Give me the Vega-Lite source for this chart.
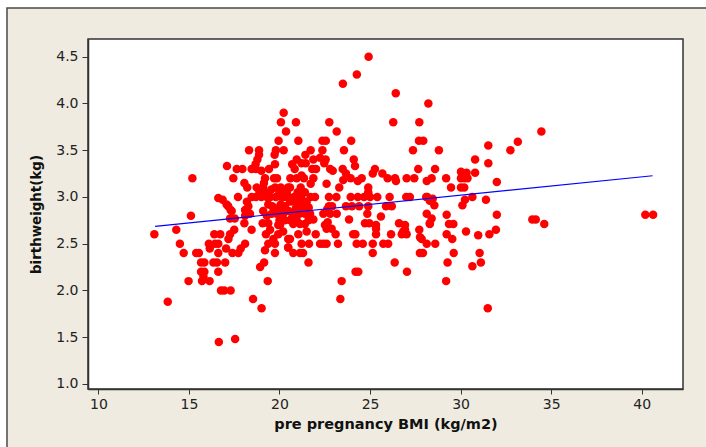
{"$schema":"https://vega.github.io/schema/vega-lite/v6.json","width":595,"height":350,"autosize":"none","padding":{"left":88,"top":39,"right":23,"bottom":58},"background":"white","config":{"view":{"stroke":null},"axis":{"grid":false,"domain":true,"domainColor":"#333333","domainWidth":1.5,"tickColor":"#333333","labelFont":"DejaVu Sans","labelFontSize":14,"labelColor":"#222222","titleFont":"DejaVu Sans","titleFontWeight":"bold","titleColor":"#111111"},"axisX":{"tickSize":5,"labelPadding":3,"titlePadding":6,"titleFontSize":14.5},"axisY":{"tickSize":6,"labelPadding":4,"titlePadding":12,"titleFontSize":13.4}},"datasets":{"fit":[{"bmi":13.13,"bw":2.686},{"bmi":40.6,"bw":3.227}],"pts":[
{"bmi":16.65,"bw":1.45},{"bmi":17.55,"bw":1.48},{"bmi":20.3,"bw":2.9},{"bmi":20.5,"bw":2.85},{"bmi":20.9,"bw":2.88},{"bmi":21.0,"bw":3.05},{"bmi":21.2,"bw":3.0},{"bmi":21.4,"bw":3.05},{"bmi":21.5,"bw":2.95},{"bmi":20.6,"bw":2.75},{"bmi":20.3,"bw":2.75},{"bmi":21.1,"bw":2.82},{"bmi":19.1,"bw":2.85},{"bmi":19.3,"bw":2.8},{"bmi":20.0,"bw":3.05},{"bmi":19.1,"bw":3.1},{"bmi":19.7,"bw":3.2},{"bmi":18.2,"bw":2.95},{"bmi":20.6,"bw":3.2},{"bmi":20.7,"bw":3.35},
{"bmi":13.09,"bw":2.6},{"bmi":14.3,"bw":2.65},{"bmi":14.5,"bw":2.5},{"bmi":14.71,"bw":2.4},{"bmi":15.4,"bw":2.4},{"bmi":15.55,"bw":2.4},{"bmi":15.67,"bw":2.3},{"bmi":15.85,"bw":2.3},{"bmi":16.35,"bw":2.3},{"bmi":16.55,"bw":2.3},{"bmi":17.0,"bw":2.3},{"bmi":15.67,"bw":2.2},{"bmi":15.85,"bw":2.2},{"bmi":16.62,"bw":2.2},{"bmi":14.98,"bw":2.1},{"bmi":15.72,"bw":2.1},{"bmi":15.8,"bw":2.15},{"bmi":16.14,"bw":2.1},{"bmi":16.77,"bw":2.0},{"bmi":16.95,"bw":2.0},{"bmi":17.3,"bw":2.0},{"bmi":13.83,"bw":1.88},{"bmi":18.54,"bw":1.91},{"bmi":19.01,"bw":1.81},{"bmi":19.35,"bw":2.1},{"bmi":18.93,"bw":2.25},{"bmi":19.15,"bw":2.3},{"bmi":19.2,"bw":2.43},{"bmi":19.75,"bw":2.4},{"bmi":20.48,"bw":2.46},{"bmi":16.4,"bw":2.6},{"bmi":16.73,"bw":2.6},{"bmi":16.1,"bw":2.5},{"bmi":16.44,"bw":2.5},{"bmi":16.62,"bw":2.5},{"bmi":16.15,"bw":2.45},{"bmi":16.62,"bw":2.4},{"bmi":17.05,"bw":2.45},{"bmi":17.4,"bw":2.4},{"bmi":17.73,"bw":2.4},{"bmi":17.86,"bw":2.45},{"bmi":18.1,"bw":2.5},{"bmi":17.18,"bw":2.55},{"bmi":17.27,"bw":2.6},{"bmi":17.5,"bw":2.65},{"bmi":18.06,"bw":2.72},{"bmi":18.46,"bw":2.65},{"bmi":17.27,"bw":2.77},{"bmi":17.53,"bw":2.77},{"bmi":17.08,"bw":2.92},{"bmi":17.3,"bw":2.86},{"bmi":18.1,"bw":2.86},{"bmi":18.28,"bw":2.9},{"bmi":18.37,"bw":2.82},{"bmi":18.1,"bw":2.8},{"bmi":19.38,"bw":2.92},{"bmi":20.07,"bw":2.92},{"bmi":19.57,"bw":2.82},{"bmi":19.85,"bw":2.82},{"bmi":20.2,"bw":2.82},{"bmi":19.07,"bw":2.72},{"bmi":19.38,"bw":2.72},{"bmi":19.93,"bw":2.7},{"bmi":19.48,"bw":2.65},{"bmi":19.25,"bw":2.6},{"bmi":20.2,"bw":2.63},{"bmi":19.93,"bw":2.6},{"bmi":19.66,"bw":2.55},{"bmi":19.38,"bw":2.5},{"bmi":19.75,"bw":2.5},{"bmi":20.48,"bw":2.55},{"bmi":19.6,"bw":2.9},{"bmi":19.8,"bw":2.85},{"bmi":20.0,"bw":2.75},
{"bmi":15.19,"bw":3.2},{"bmi":15.11,"bw":2.8},{"bmi":20.23,"bw":3.9},{"bmi":20.08,"bw":3.8},{"bmi":20.36,"bw":3.7},{"bmi":19.95,"bw":3.6},{"bmi":18.32,"bw":3.5},{"bmi":18.87,"bw":3.5},{"bmi":19.8,"bw":3.5},{"bmi":20.23,"bw":3.5},{"bmi":18.87,"bw":3.45},{"bmi":18.78,"bw":3.4},{"bmi":19.73,"bw":3.45},{"bmi":18.68,"bw":3.35},{"bmi":19.75,"bw":3.35},{"bmi":17.1,"bw":3.33},{"bmi":17.64,"bw":3.3},{"bmi":17.95,"bw":3.3},{"bmi":18.46,"bw":3.3},{"bmi":18.7,"bw":3.3},{"bmi":19.0,"bw":3.28},{"bmi":19.42,"bw":3.3},{"bmi":17.45,"bw":3.2},{"bmi":19.86,"bw":3.2},{"bmi":19.2,"bw":3.2},{"bmi":18.06,"bw":3.15},{"bmi":18.22,"bw":3.1},{"bmi":18.74,"bw":3.1},{"bmi":19.14,"bw":3.15},{"bmi":19.76,"bw":3.1},{"bmi":20.07,"bw":3.1},{"bmi":20.47,"bw":3.1},{"bmi":17.71,"bw":3.0},{"bmi":18.46,"bw":3.0},{"bmi":18.7,"bw":3.0},{"bmi":19.0,"bw":3.0},{"bmi":19.3,"bw":3.0},{"bmi":19.5,"bw":3.0},{"bmi":19.8,"bw":3.0},{"bmi":20.1,"bw":3.0},{"bmi":20.4,"bw":3.0},{"bmi":16.62,"bw":2.99},{"bmi":16.86,"bw":2.97},{"bmi":17.17,"bw":2.9},{"bmi":17.36,"bw":2.85},{"bmi":19.2,"bw":3.05},{"bmi":19.55,"bw":3.08},{"bmi":18.9,"bw":3.05},
{"bmi":20.91,"bw":3.8},{"bmi":22.75,"bw":3.8},{"bmi":26.28,"bw":3.8},{"bmi":27.72,"bw":3.8},{"bmi":28.22,"bw":4.0},{"bmi":23.16,"bw":3.7},{"bmi":21.04,"bw":3.6},{"bmi":22.37,"bw":3.6},{"bmi":22.56,"bw":3.6},{"bmi":23.96,"bw":3.6},{"bmi":27.7,"bw":3.6},{"bmi":27.94,"bw":3.6},{"bmi":21.72,"bw":3.5},{"bmi":22.37,"bw":3.5},{"bmi":23.56,"bw":3.5},{"bmi":27.37,"bw":3.5},{"bmi":21.43,"bw":3.45},{"bmi":21.87,"bw":3.4},{"bmi":22.24,"bw":3.42},{"bmi":22.55,"bw":3.4},{"bmi":20.95,"bw":3.4},{"bmi":24.1,"bw":3.4},{"bmi":21.22,"bw":3.36},{"bmi":21.45,"bw":3.36},{"bmi":22.47,"bw":3.36},{"bmi":24.17,"bw":3.33},{"bmi":20.84,"bw":3.3},{"bmi":21.81,"bw":3.3},{"bmi":22.02,"bw":3.3},{"bmi":22.8,"bw":3.3},{"bmi":22.94,"bw":3.28},{"bmi":23.49,"bw":3.3},{"bmi":25.27,"bw":3.3},{"bmi":25.15,"bw":3.25},{"bmi":25.68,"bw":3.25},{"bmi":27.66,"bw":3.3},{"bmi":23.67,"bw":3.25},{"bmi":20.95,"bw":3.2},{"bmi":21.22,"bw":3.23},{"bmi":21.35,"bw":3.2},{"bmi":21.87,"bw":3.2},{"bmi":23.52,"bw":3.18},{"bmi":23.93,"bw":3.2},{"bmi":24.54,"bw":3.2},{"bmi":24.32,"bw":3.17},{"bmi":25.97,"bw":3.2},{"bmi":26.38,"bw":3.2},{"bmi":26.43,"bw":3.17},{"bmi":27.02,"bw":3.2},{"bmi":27.44,"bw":3.2},{"bmi":28.13,"bw":3.17},{"bmi":22.6,"bw":3.14},{"bmi":21.72,"bw":3.14},{"bmi":21.17,"bw":3.1},{"bmi":23.3,"bw":3.1},{"bmi":20.58,"bw":3.1},{"bmi":20.4,"bw":3.05},{"bmi":24.9,"bw":3.1},{"bmi":24.9,"bw":3.05},{"bmi":20.23,"bw":3.0},{"bmi":20.5,"bw":3.0},{"bmi":20.8,"bw":3.0},{"bmi":21.72,"bw":3.0},{"bmi":21.96,"bw":3.0},{"bmi":22.73,"bw":3.0},{"bmi":23.14,"bw":3.0},{"bmi":23.93,"bw":3.0},{"bmi":24.32,"bw":3.0},{"bmi":24.67,"bw":3.0},{"bmi":25.0,"bw":3.0},{"bmi":25.4,"bw":3.0},{"bmi":26.08,"bw":3.0},{"bmi":27.0,"bw":3.0},{"bmi":27.2,"bw":3.0},{"bmi":28.1,"bw":3.0},{"bmi":22.73,"bw":2.9},{"bmi":22.9,"bw":2.9},{"bmi":23.67,"bw":2.9},{"bmi":24.0,"bw":2.9},{"bmi":24.4,"bw":2.9},{"bmi":24.9,"bw":2.9},{"bmi":25.88,"bw":2.9},{"bmi":26.2,"bw":2.9},{"bmi":20.04,"bw":2.9},{"bmi":21.04,"bw":2.94},{"bmi":21.3,"bw":2.9},{"bmi":21.6,"bw":2.88},{"bmi":20.58,"bw":2.95},{"bmi":20.85,"bw":2.95},
{"bmi":20.2,"bw":2.86},{"bmi":21.22,"bw":2.92},{"bmi":21.6,"bw":2.89},{"bmi":21.3,"bw":2.86},{"bmi":21.69,"bw":2.82},{"bmi":22.42,"bw":2.82},{"bmi":22.64,"bw":2.87},{"bmi":22.8,"bw":2.82},{"bmi":23.16,"bw":2.82},{"bmi":20.76,"bw":2.82},{"bmi":20.67,"bw":2.77},{"bmi":20.95,"bw":2.75},{"bmi":21.4,"bw":2.82},{"bmi":21.6,"bw":2.75},{"bmi":21.87,"bw":2.76},{"bmi":20.76,"bw":2.71},{"bmi":21.13,"bw":2.71},{"bmi":21.4,"bw":2.71},{"bmi":24.85,"bw":2.82},{"bmi":25.6,"bw":2.79},{"bmi":23.84,"bw":2.76},{"bmi":22.51,"bw":2.7},{"bmi":22.66,"bw":2.73},{"bmi":24.72,"bw":2.72},{"bmi":24.96,"bw":2.72},{"bmi":22.6,"bw":2.66},{"bmi":22.88,"bw":2.66},{"bmi":23.1,"bw":2.6},{"bmi":24.19,"bw":2.6},{"bmi":25.33,"bw":2.66},{"bmi":25.33,"bw":2.6},{"bmi":26.16,"bw":2.6},{"bmi":26.6,"bw":2.72},{"bmi":26.93,"bw":2.7},{"bmi":26.75,"bw":2.6},{"bmi":27.02,"bw":2.6},{"bmi":26.93,"bw":2.65},{"bmi":27.72,"bw":2.65},{"bmi":27.76,"bw":2.57},{"bmi":27.85,"bw":2.55},{"bmi":28.13,"bw":2.5},{"bmi":28.13,"bw":2.82},{"bmi":28.3,"bw":2.72},{"bmi":20.03,"bw":2.7},{"bmi":21.04,"bw":2.6},{"bmi":21.5,"bw":2.63},{"bmi":22.0,"bw":2.6},{"bmi":20.58,"bw":2.55},{"bmi":21.22,"bw":2.5},{"bmi":21.63,"bw":2.5},{"bmi":22.24,"bw":2.5},{"bmi":22.42,"bw":2.5},{"bmi":22.6,"bw":2.5},{"bmi":23.23,"bw":2.5},{"bmi":24.26,"bw":2.5},{"bmi":24.6,"bw":2.5},{"bmi":25.15,"bw":2.5},{"bmi":25.73,"bw":2.5},{"bmi":26.0,"bw":2.5},{"bmi":20.48,"bw":2.46},{"bmi":20.76,"bw":2.4},{"bmi":21.13,"bw":2.4},{"bmi":21.3,"bw":2.4},{"bmi":25.15,"bw":2.4},{"bmi":27.75,"bw":2.4},{"bmi":27.92,"bw":2.4},{"bmi":21.6,"bw":2.3},{"bmi":26.36,"bw":2.3},{"bmi":24.2,"bw":2.2},{"bmi":24.35,"bw":2.2},{"bmi":27.04,"bw":2.2},{"bmi":23.43,"bw":2.1},{"bmi":23.36,"bw":1.91},
{"bmi":28.8,"bw":3.5},{"bmi":31.53,"bw":3.55},{"bmi":33.16,"bw":3.59},{"bmi":32.75,"bw":3.5},{"bmi":34.46,"bw":3.7},{"bmi":30.8,"bw":3.4},{"bmi":31.53,"bw":3.36},{"bmi":28.59,"bw":3.3},{"bmi":28.4,"bw":3.2},{"bmi":29.2,"bw":3.2},{"bmi":29.47,"bw":3.1},{"bmi":30.02,"bw":3.27},{"bmi":30.33,"bw":3.26},{"bmi":30.8,"bw":3.26},{"bmi":30.02,"bw":3.2},{"bmi":30.38,"bw":3.2},{"bmi":30.2,"bw":3.2},{"bmi":30.02,"bw":3.1},{"bmi":30.2,"bw":3.1},{"bmi":32.0,"bw":3.16},{"bmi":30.65,"bw":3.0},{"bmi":30.24,"bw":2.97},{"bmi":30.1,"bw":2.91},{"bmi":31.4,"bw":2.97},{"bmi":28.16,"bw":3.0},{"bmi":28.46,"bw":2.98},{"bmi":28.3,"bw":2.96},{"bmi":28.55,"bw":2.91},{"bmi":28.4,"bw":2.77},{"bmi":28.3,"bw":2.71},{"bmi":29.23,"bw":2.81},{"bmi":29.36,"bw":2.71},{"bmi":29.6,"bw":2.71},{"bmi":32.0,"bw":2.81},{"bmi":33.96,"bw":2.76},{"bmi":34.15,"bw":2.76},{"bmi":34.62,"bw":2.71},{"bmi":30.3,"bw":2.63},{"bmi":31.95,"bw":2.65},{"bmi":31.59,"bw":2.6},{"bmi":30.97,"bw":2.59},{"bmi":29.23,"bw":2.6},{"bmi":29.54,"bw":2.55},{"bmi":28.6,"bw":2.5},{"bmi":29.62,"bw":2.4},{"bmi":31.05,"bw":2.4},{"bmi":29.28,"bw":2.3},{"bmi":30.65,"bw":2.26},{"bmi":31.12,"bw":2.3},{"bmi":29.2,"bw":2.1},{"bmi":31.5,"bw":1.81},{"bmi":24.92,"bw":4.5},{"bmi":24.27,"bw":4.31},{"bmi":26.42,"bw":4.11},{"bmi":23.5,"bw":4.21},{"bmi":40.2,"bw":2.81},{"bmi":40.63,"bw":2.81},{"bmi":24.07,"bw":2.6},{"bmi":26.83,"bw":2.63},{"bmi":25.33,"bw":2.7}
]},
"layer":[
{"data":{"values":[{}]},"mark":{"type":"rect","fill":"#EFEBE0","stroke":"#4a4a4a","strokeWidth":1.5},"encoding":{"x":{"datum":4.953,"type":"quantitative","scale":{"domain":[9.426,42.28],"nice":false,"zero":false},"axis":{"zindex":1,"values":[10,15,20,25,30,35,40],"format":"d","title":"pre pregnancy BMI (kg/m2)"}},"x2":{"datum":44.05},"y":{"datum":5.0205,"type":"quantitative","scale":{"domain":[0.9465,4.689],"nice":false,"zero":false},"axis":{"zindex":1,"values":[1,1.5,2,2.5,3,3.5,4,4.5],"format":".1f","title":"birthweight(kg)"}},"y2":{"datum":0.2408}}},
{"data":{"values":[{}]},"mark":{"type":"rect","fill":"white","stroke":"#333333","strokeWidth":1.5},"encoding":{"x":{"datum":9.426,"type":"quantitative","scale":{"domain":[9.426,42.28],"nice":false,"zero":false},"axis":{"zindex":1,"values":[10,15,20,25,30,35,40],"format":"d","title":"pre pregnancy BMI (kg/m2)"}},"x2":{"datum":42.28},"y":{"datum":4.689,"type":"quantitative","scale":{"domain":[0.9465,4.689],"nice":false,"zero":false},"axis":{"zindex":1,"values":[1,1.5,2,2.5,3,3.5,4,4.5],"format":".1f","title":"birthweight(kg)"}},"y2":{"datum":0.9465}}},
{"data":{"name":"pts"},"mark":{"type":"circle","color":"#ff0000","opacity":1,"size":72},"encoding":{"x":{"field":"bmi","type":"quantitative","scale":{"domain":[9.426,42.28],"nice":false,"zero":false},"axis":{"zindex":1,"values":[10,15,20,25,30,35,40],"format":"d","title":"pre pregnancy BMI (kg/m2)"}},"y":{"field":"bw","type":"quantitative","scale":{"domain":[0.9465,4.689],"nice":false,"zero":false},"axis":{"zindex":1,"values":[1,1.5,2,2.5,3,3.5,4,4.5],"format":".1f","title":"birthweight(kg)"}}}},
{"data":{"name":"fit"},"mark":{"type":"line","color":"#0000ff","strokeWidth":1.2},"encoding":{"x":{"field":"bmi","type":"quantitative","scale":{"domain":[9.426,42.28],"nice":false,"zero":false},"axis":{"zindex":1,"values":[10,15,20,25,30,35,40],"format":"d","title":"pre pregnancy BMI (kg/m2)"}},"y":{"field":"bw","type":"quantitative","scale":{"domain":[0.9465,4.689],"nice":false,"zero":false},"axis":{"zindex":1,"values":[1,1.5,2,2.5,3,3.5,4,4.5],"format":".1f","title":"birthweight(kg)"}}}}
]}
